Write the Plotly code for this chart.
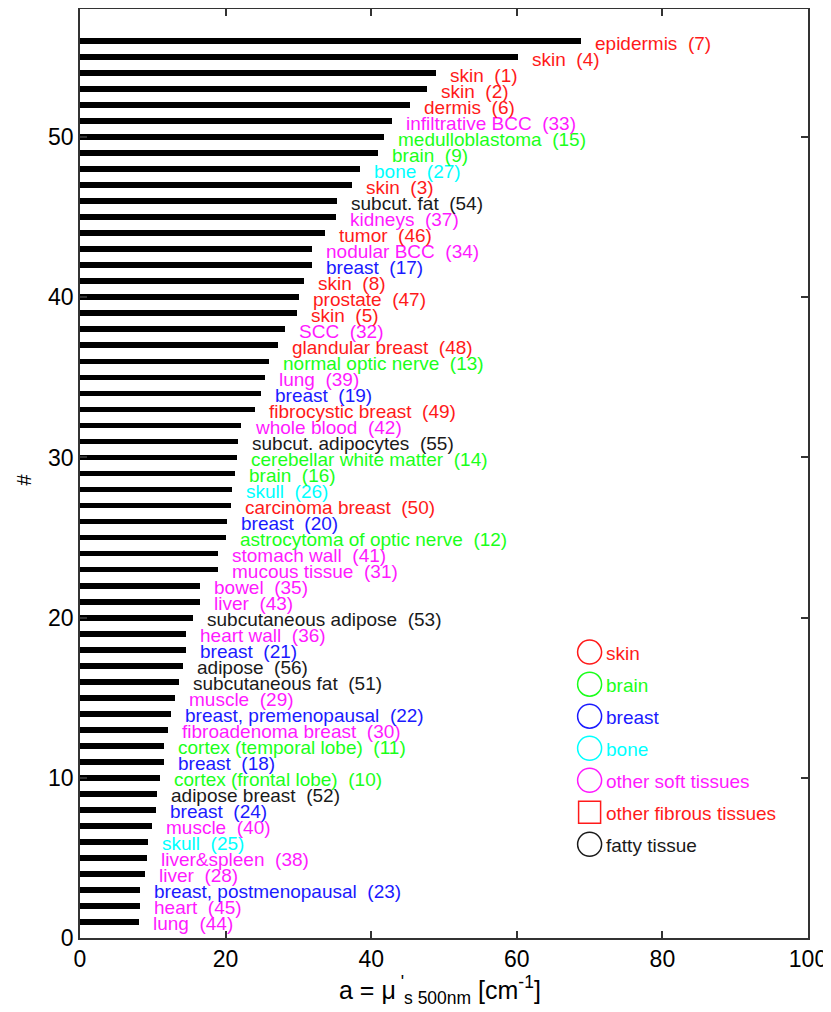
import plotly.graph_objects as go

# ---- data (bottom to top) ----
tissue_names = [
    "lung", "heart", "breast, postmenopausal", "liver", "liver&spleen", "skull", "muscle",
    "breast", "adipose breast", "cortex (frontal lobe)", "breast", "cortex (temporal lobe)",
    "fibroadenoma breast", "breast, premenopausal", "muscle", "subcutaneous fat", "adipose",
    "breast", "heart wall", "subcutaneous adipose", "liver", "bowel", "mucous tissue",
    "stomach wall", "astrocytoma of optic nerve", "breast", "carcinoma breast", "skull",
    "brain", "cerebellar white matter", "subcut. adipocytes", "whole blood",
    "fibrocystic breast", "breast", "lung", "normal optic nerve", "glandular breast", "SCC",
    "skin", "prostate", "skin", "breast", "nodular BCC", "tumor", "kidneys", "subcut. fat",
    "skin", "bone", "brain", "medulloblastoma", "infiltrative BCC", "dermis", "skin", "skin",
    "skin", "epidermis",
]
tissue_refs = [
    44, 45, 23, 28, 38, 25, 40, 24, 52, 10, 18, 11, 30, 22, 29, 51, 56, 21, 36, 53, 43, 35,
    31, 41, 12, 20, 50, 26, 16, 14, 55, 42, 49, 19, 39, 13, 48, 32, 5, 47, 8, 17, 34, 46,
    37, 54, 3, 27, 9, 15, 33, 6, 2, 1, 4, 7,
]
mus_values = [
    8.1, 8.3, 8.3, 8.9, 9.2, 9.4, 9.9, 10.5, 10.6, 11.0, 11.5, 11.5, 12.1, 12.5, 13.1, 13.6,
    14.1, 14.6, 14.6, 15.5, 16.5, 16.5, 18.9, 19.0, 20.0, 20.2, 20.8, 20.9, 21.3, 21.5,
    21.7, 22.1, 24.0, 24.8, 25.4, 25.9, 27.2, 28.2, 29.8, 30.1, 30.7, 31.9, 31.9, 33.6,
    35.1, 35.3, 37.3, 38.4, 40.9, 41.8, 42.8, 45.3, 47.7, 48.9, 60.2, 68.8,
]
tissue_groups = [
    "soft", "soft", "breast", "soft", "soft", "bone", "soft", "breast", "fat", "brain",
    "breast", "brain", "soft", "breast", "soft", "fat", "fat", "breast", "soft", "fat",
    "soft", "soft", "soft", "soft", "brain", "breast", "fibrous", "bone", "brain", "brain",
    "fat", "soft", "fibrous", "breast", "soft", "brain", "fibrous", "soft", "skin",
    "fibrous", "skin", "breast", "soft", "fibrous", "soft", "fat", "skin", "bone", "brain",
    "brain", "soft", "skin", "skin", "skin", "skin", "skin",
]

legend_groups = ["skin", "brain", "breast", "bone", "soft", "fibrous", "fat"]
legend_names = ["skin", "brain", "breast", "bone", "other soft tissues",
                "other fibrous tissues", "fatty tissue"]
legend_symbols = ["circle-open", "circle-open", "circle-open", "circle-open",
                  "circle-open", "square-open", "circle-open"]
legend_y = [17.85, 15.85, 13.85, 11.85, 9.85, 7.85, 5.85]
legend_x = 70.0

group_colors = {
    "skin": "#ff1a1a", "brain": "#1aff1a", "breast": "#1a1aff", "bone": "#00ffff",
    "soft": "#ff1aff", "fibrous": "#ff1a1a", "fat": "#1a1a1a",
}

x_ticks = [0, 20, 40, 60, 80, 100]
y_ticks = [0, 10, 20, 30, 40, 50]

FONT = "Liberation Sans, Arial, sans-serif"

positions = list(range(1, len(mus_values) + 1))

fig = go.Figure()
fig.add_trace(go.Bar(
    x=mus_values, y=positions, orientation="h", width=0.36,
    marker=dict(color="black", line=dict(width=0)), showlegend=False,
    hoverinfo="skip",
))

annotations = []
for xv, yv, name, ref, grp in zip(mus_values, positions, tissue_names, tissue_refs, tissue_groups):
    annotations.append(dict(
        x=xv, y=yv, xref="x", yref="y", text=f"{name}\u00a0 ({ref})",
        showarrow=False, xanchor="left", yanchor="middle", xshift=12, yshift=-2,
        font=dict(family=FONT, size=19, color=group_colors[grp]),
    ))

# legend drawn inside the axes
for grp, name, sym, ly in zip(legend_groups, legend_names, legend_symbols, legend_y):
    col = group_colors[grp]
    fig.add_trace(go.Scatter(
        x=[legend_x], y=[ly], mode="markers",
        marker=dict(symbol=sym, size=24 if sym.startswith("circle") else 22,
                    color=col, line=dict(color=col, width=1.5)),
        showlegend=False, hoverinfo="skip",
    ))
    annotations.append(dict(
        x=legend_x, y=ly, xref="x", yref="y", text=name, showarrow=False,
        xanchor="left", yanchor="middle", xshift=14, yshift=-1,
        font=dict(family=FONT, size=19, color=col),
    ))

# axis titles
annotations.append(dict(
    x=0, y=0.5, xref="paper", yref="paper", text="#", showarrow=False,
    xanchor="center", yanchor="middle", xshift=-57, yshift=-6, textangle=-90,
    font=dict(family=FONT, size=20, color="black"),
))
annotations.append(dict(
    x=0.495, y=0, xref="paper", yref="paper",
    text="a = μ<sup> '</sup><sub>s 500nm</sub> [cm<sup>-1</sup>]",
    showarrow=False, xanchor="center", yanchor="middle", yshift=-52,
    font=dict(family=FONT, size=25, color="black"),
))

axis_common = dict(
    showgrid=False, zeroline=False, showline=True, linecolor="#333333", linewidth=1.5,
    mirror="ticks", ticks="inside", ticklen=7, tickwidth=1.5, tickcolor="#333333",
    tickfont=dict(family=FONT, size=23, color="black"), automargin=False,
)

# the page body adds an 8px offset, so margins compensate for it
fig.update_layout(
    width=831, height=1012,
    margin=dict(l=72, r=31, t=1, b=82),
    paper_bgcolor="white", plot_bgcolor="white",
    xaxis=dict(range=[0, 100], tickvals=x_ticks, **axis_common),
    yaxis=dict(range=[0, 58], tickvals=y_ticks, **axis_common),
    annotations=annotations,
    bargap=0,
)

fig.write_html("out.html")
